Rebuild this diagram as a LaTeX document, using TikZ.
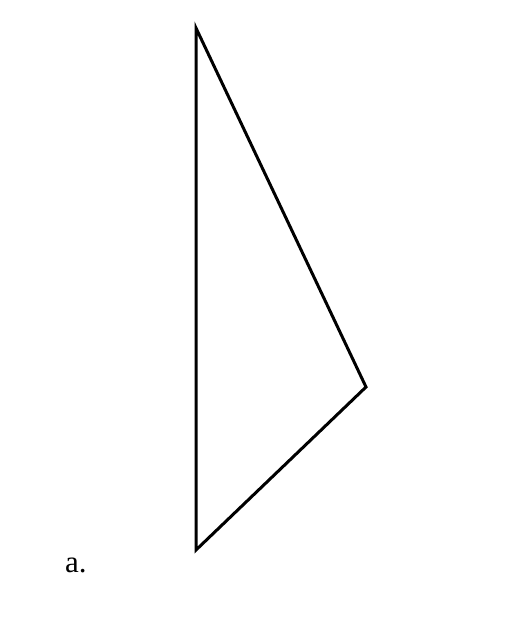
\documentclass[tikz,border=0pt]{standalone}
\usepackage{fontspec}
\setmainfont{Liberation Serif}
\begin{document}
\begin{tikzpicture}[x=1pt,y=-1pt]
        % 边界
        \useasboundingbox (0,0) rectangle (508,626);

        % 顶点
        \coordinate (top) at (196,28);
        \coordinate (right) at (366,387);
        \coordinate (bottom) at (196,550);

        % 三角形
        \draw[line width=3pt,line join=miter] (top) -- (right) -- (bottom) -- cycle;

        % 标签
        \node[anchor=base west,inner sep=0pt,font=\fontsize{31}{34}\selectfont] (lbl) at (65,572) {a.};
    \end{tikzpicture}
\end{document}
